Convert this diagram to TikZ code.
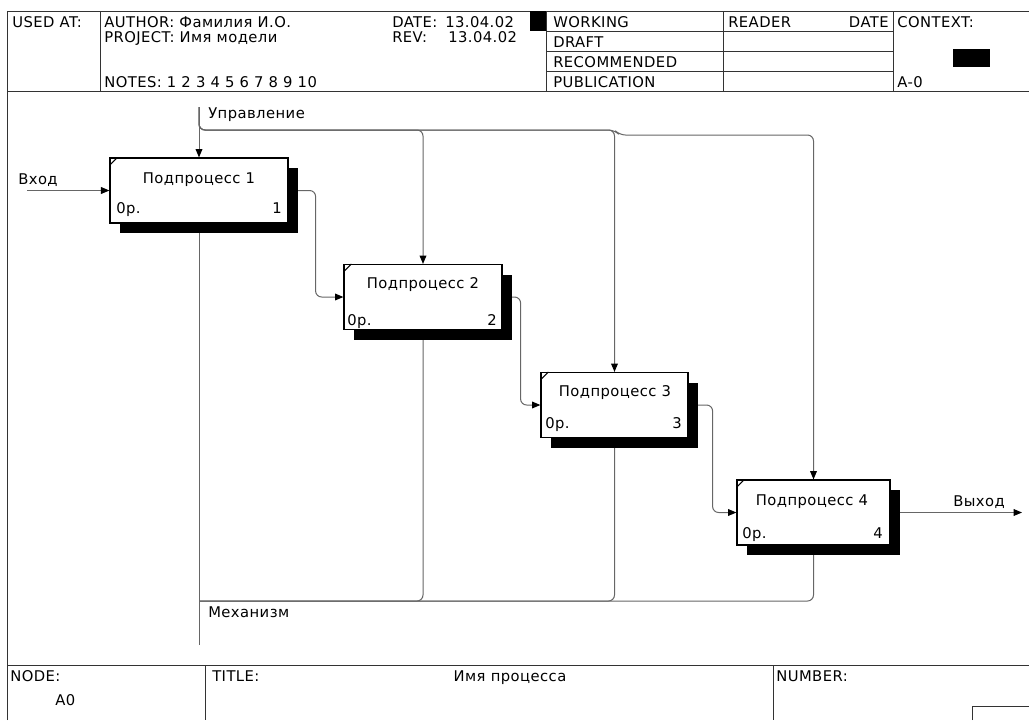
\documentclass[tikz,border=0pt]{standalone}
\usepackage{fontspec}
\setmainfont{DejaVu Sans}[LetterSpace=3]
\usetikzlibrary{arrows.meta, positioning, shadows, backgrounds}

\begin{document}
\begin{tikzpicture}[x=0.25mm, y=-0.25mm,
    every node/.style={font=\fontsize{10.5}{12}\selectfont, inner sep=0pt},
    txt/.style={anchor=base west},
    frm/.style={line width=0.25mm, black!80},
    proc/.style={draw, line width=0.3mm, fill=white, minimum height=16.25mm,
      general shadow={fill=black, shadow xshift=2.5mm, shadow yshift=-2.5mm}},
    flow/.style={line width=0.25mm, black!60, rounded corners=1.5mm},
    arr/.style={flow, -{Triangle[length=2.1mm, width=1.7mm, color=black]}}]
    \useasboundingbox (0,0) rectangle (1029,720);

    % form frame
    \draw[frm] (7,720) -- (7,11) -- (1029,11);
    \draw[frm] (7,91) -- (1029,91);
    \foreach \x in {100,546,723,893} \draw[frm] (\x,11) -- (\x,91);
    \foreach \y in {31,51,71} \draw[frm] (546,\y) -- (893,\y);
    \fill (530,11) rectangle (546,31);
    \fill (953,49) rectangle (990,67);
    \draw[frm] (7,665) -- (1029,665);
    \foreach \x in {205,773} \draw[frm] (\x,665) -- (\x,720);
    \draw[frm] (972,720) -- (972,706) -- (1029,706);

    % header
    \node[txt] at (12,27)   (usedat)  {USED AT:};
    \node[txt] at (104,27)  (author)  {AUTHOR:\ Фамилия И.О.};
    \node[txt] at (104,42)  (project) {PROJECT:\ Имя модели};
    \node[txt] at (104,87)  (notes)   {NOTES:\ 1\ 2\ 3\ 4\ 5\ 6\ 7\ 8\ 9\ 10};
    \node[txt] at (392,27)  (date)    {DATE:};
    \node[txt] at (445,27)  (dateval) {13.04.02};
    \node[txt] at (392,42)  (rev)     {REV:};
    \node[txt] at (448,42)  (revval)  {13.04.02};
    \node[txt] at (553,27)  (working) {WORKING};
    \node[txt] at (553,47)  (draft)   {DRAFT};
    \node[txt] at (553,67)  (recom)   {RECOMMENDED};
    \node[txt] at (553,87)  (publ)    {PUBLICATION};
    \node[txt] at (728,27)  (reader)  {READER};
    \node[anchor=base east] at (889,27) (rdate) {DATE};
    \node[txt] at (897,27)  (context) {CONTEXT:};
    \node[txt] at (897,87)  (ctxnum)  {A-0};

    % footer
    \node[txt] at (10,681)  (node)    {NODE:};
    \node[txt] at (55,705)  (nodenum) {A0};
    \node[txt] at (212,681) (title)   {TITLE:};
    \node[anchor=base] at (510,681) (titleval) {Имя процесса};
    \node[txt] at (776,681) (number)  {NUMBER:};

    % activities
    \node[proc, minimum width=44.5mm]  at (199,190.5) (p1) {};
    \node[proc, minimum width=39.5mm]  at (423,297)   (p2) {};
    \node[proc, minimum width=36.75mm] at (614.5,405) (p3) {};
    \node[proc, minimum width=38.25mm] at (813.5,512.5) (p4) {};
    \foreach \p in {p1,p2,p3,p4}
        \draw[line width=0.25mm] (\p.north west) ++(0,8) -- ++(8,-8);

    \node at (199,180) (t1) {Подпроцесс 1};
    \node at (423,285) (t2) {Подпроцесс 2};
    \node at (615,393) (t3) {Подпроцесс 3};
    \node at (812,502) (t4) {Подпроцесс 4};
    \node[txt] at (116,213) (c1) {0р.};
    \node[txt] at (347,325) (c2) {0р.};
    \node[txt] at (545,428) (c3) {0р.};
    \node[txt] at (742,538) (c4) {0р.};
    \node[anchor=base east] at (282,213) (n1) {1};
    \node[anchor=base east] at (497,325) (n2) {2};
    \node[anchor=base east] at (682,428) (n3) {3};
    \node[anchor=base east] at (883,538) (n4) {4};

    % arrows
    \node[anchor=west] at (18,180)  (inlbl)   {Вход};
    \node[anchor=west] at (953,502) (outlbl)  {Выход};
    \node[anchor=west] at (208,115) (ctllbl)  {Управление};
    \node[anchor=west] at (208,612) (mechlbl) {Механизм};
    \coordinate (in)   at (27,190.5);
    \coordinate (out)  at (1022,512.5);
    \coordinate (ctl)  at (199,107);
    \coordinate (cy)   at (199,130);
    \coordinate (mech) at (199,645);
    \coordinate (my)   at (199,601);

    \begin{scope}[on background layer]
        \draw[arr] (in) -- (p1.west);
        \draw[arr] (ctl) -- (p1.north);
        \draw[arr] (ctl) |- (cy -| p2.north) -- (p2.north);
        \draw[arr] (ctl) |- (cy -| p3.north) -- (p3.north);
        \draw[arr] (ctl) |- (cy -| p3.north) -- ++(5,5) -| (p4.north);
        \draw[arr] (p1.east) -- ++(27,0) |- (p2.west);
        \draw[arr] (p2.east) -- ++(18,0) |- (p3.west);
        \draw[arr] (p3.east) -- ++(24,0) |- (p4.west);
        \draw[arr] (p4.east) -- (out);
        \draw[arr] (mech) -- (p1.south);
        \draw[arr] (my) -| (p2.south);
        \draw[arr] (my) -| (p3.south);
        \draw[arr] (my) -| (p4.south);
    \end{scope}
\end{tikzpicture}
\end{document}
